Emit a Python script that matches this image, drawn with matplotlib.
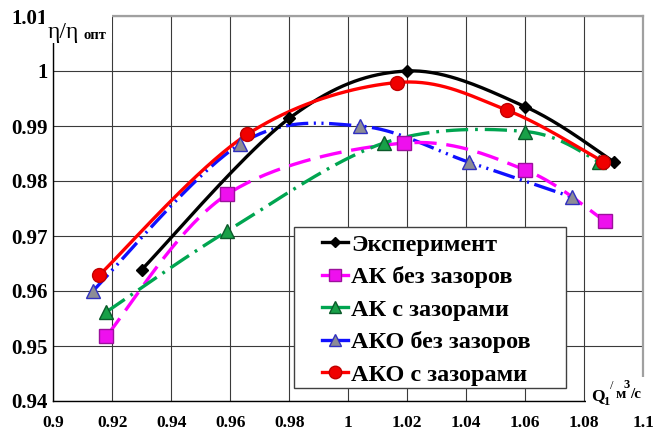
import numpy as np
import matplotlib
matplotlib.use("Agg")
import matplotlib.pyplot as plt
from matplotlib.patches import Rectangle

# Data
exp_q = [0.930, 0.980, 1.020, 1.060, 1.090]
exp_eta = [0.9639, 0.9914, 1.0000, 0.9935, 0.9835]

ak_q = [0.918, 0.959, 1.019, 1.060, 1.087]
ak_eta = [0.9518, 0.9776, 0.9869, 0.9820, 0.9727]

akz_q = [0.918, 0.959, 1.012, 1.060, 1.085]
akz_eta = [0.9562, 0.9709, 0.9869, 0.9890, 0.9835]

ako_q = [0.9134, 0.9633, 1.004, 1.041, 1.0757]
ako_eta = [0.9600, 0.9867, 0.9900, 0.9834, 0.9771]

akoz_q = [0.9156, 0.9658, 1.0164, 1.0537, 1.0864]
akoz_eta = [0.9629, 0.9885, 0.9979, 0.9929, 0.9835]

labels = ["Эксперимент", "АК без зазоров", "АК с зазорами",
          "АКО без зазоров", "АКО с зазорами"]
xticks = np.round(np.arange(0.9, 1.1001, 0.02), 2)
yticks = np.round(np.arange(0.94, 1.0101, 0.01), 2)
xtick_labels = ["0.9", "0.92", "0.94", "0.96", "0.98", "1", "1.02", "1.04", "1.06", "1.08", "1.1"]
ytick_labels = ["0.94", "0.95", "0.96", "0.97", "0.98", "0.99", "1", "1.01"]

W, H = 655, 430
plt.rcParams['lines.scale_dashes'] = False
serif = ['Liberation Serif', 'DejaVu Serif']


def smooth(x, y, n=40):
    # Excel-style smoothed line (Bezier through the points)
    p = np.column_stack([x, y])
    ext = np.vstack([p[0], p, p[-1]])
    t = np.linspace(0, 1, n)[:, None]
    out = []
    for i in range(len(p) - 1):
        p0, p1, p2, p3 = ext[i], ext[i + 1], ext[i + 2], ext[i + 3]
        c1 = p1 + (p2 - p0) / 6
        c2 = p2 - (p3 - p1) / 6
        seg = ((1 - t) ** 3) * p1 + 3 * ((1 - t) ** 2) * t * c1 + 3 * (1 - t) * t ** 2 * c2 + t ** 3 * p2
        out.append(seg)
    s = np.vstack(out)
    return s[:, 0], s[:, 1]


def px(x, y):
    return x / W, 1 - y / H


fig = plt.figure(figsize=(W / 100, H / 100), dpi=100)
ax = fig.add_axes([53.3 / W, 1 - 401 / H, 590 / W, 385 / H])

series = [
    (ako_q, ako_eta, dict(color='#1010ff', dashes=(16, 4, 1.5, 4, 1.5, 4)),
     dict(marker='^', ms=10, mfc='#8c8c96', mec='#3030c0')),
    (ak_q, ak_eta, dict(color='#ff00ff', dashes=(16, 7)),
     dict(marker='s', ms=9.5, mfc='#ee10ee', mec='#9c109c')),
    (akz_q, akz_eta, dict(color='#00a550', dashes=(16, 5, 2, 5)),
     dict(marker='^', ms=10, mfc='#18a048', mec='#0a5a2a')),
    (exp_q, exp_eta, dict(color='black', linestyle='-'),
     dict(marker='D', ms=6, mfc='black', mec='black')),
    (akoz_q, akoz_eta, dict(color='#ff0000', linestyle='-'),
     dict(marker='o', ms=10, mfc='#f00000', mec='#c00000')),
]
label_idx = [3, 1, 2, 0, 4]

handles = {}
for (q, e, lstyle, mstyle), li in zip(series, label_idx):
    sx, sy = smooth(q, e)
    ax.plot(sx, sy, lw=2.4, zorder=3, **lstyle)
    ax.plot(q, e, linestyle='none', zorder=4, **mstyle)
    h, = ax.plot([], [], lw=2.4, linestyle='-', color=lstyle['color'],
                 **{k: (v * 0.9 if k == 'ms' else v) for k, v in mstyle.items()})
    handles[li] = h

ax.set_xlim(0.9, 1.1)
ax.set_ylim(0.94, 1.01)
ax.set_xticks(xticks)
ax.set_xticklabels(xtick_labels)
ax.set_yticks(yticks)
ax.set_yticklabels(ytick_labels)
ax.grid(True, color='#3a3a3a', lw=0.8)
ax.set_axisbelow(True)
ax.tick_params(axis='both', length=0)
ax.tick_params(axis='x', pad=10)
ax.tick_params(axis='y', pad=4)
for lab in ax.get_xticklabels():
    lab.set_fontfamily(serif)
    lab.set_fontweight('bold')
    lab.set_fontsize(12.5)
for lab in ax.get_yticklabels():
    lab.set_fontfamily(serif)
    lab.set_fontweight('bold')
    lab.set_fontsize(15)
for side in ['top', 'right']:
    ax.spines[side].set_color('#a0a0a0')
    ax.spines[side].set_linewidth(1.6)
for side in ['left', 'bottom']:
    ax.spines[side].set_color('black')
    ax.spines[side].set_linewidth(1.0)

# legend frame drawn separately, entries placed inside it
ax.add_patch(Rectangle((0.408, 0.034), 0.461, 0.418, transform=ax.transAxes,
                       facecolor='white', edgecolor='#404040', lw=1.0,
                       zorder=5, clip_on=False))
leg = ax.legend([handles[i] for i in range(5)], labels, loc='upper left',
                bbox_to_anchor=(0.4554, 0.434), borderaxespad=0,
                prop=dict(family=serif, weight='bold', size=17.5),
                handlelength=1.07, handletextpad=0.12, labelspacing=0.43,
                borderpad=0, frameon=False)
leg.set_zorder(6)

# white boxes behind the axis names
fig.add_artist(Rectangle(px(44, 43), 68 / W, 33 / H, transform=fig.transFigure,
                         facecolor='white', edgecolor='none', zorder=5))
fig.add_artist(Rectangle(px(586, 404), 69 / W, 27 / H, transform=fig.transFigure,
                         facecolor='white', edgecolor='none', zorder=5))

fig.text(*px(48, 38), "η/η", family=serif, fontsize=17, va='baseline', zorder=6)
fig.text(*px(84, 39), "опт", family=serif, fontsize=10.5, fontweight='bold',
         va='baseline', zorder=6)

fig.text(*px(591, 400), "Q", family=serif, fontsize=12.5, fontweight='bold', va='baseline', zorder=6)
fig.text(*px(603.5, 405), "1", family=serif, fontsize=9, fontweight='bold', va='baseline', zorder=6)
fig.text(*px(610, 389), "/", family=serif, fontsize=9, va='baseline', zorder=6)
fig.text(*px(616, 398), "м", family=serif, fontsize=11, fontweight='bold', va='baseline', zorder=6)
fig.text(*px(624, 388), "3", family=serif, fontsize=9, fontweight='bold', va='baseline', zorder=6)
fig.text(*px(630, 398), "/с", family=serif, fontsize=11, fontweight='bold', va='baseline', zorder=6)

fig.savefig("out.png", dpi=100)
